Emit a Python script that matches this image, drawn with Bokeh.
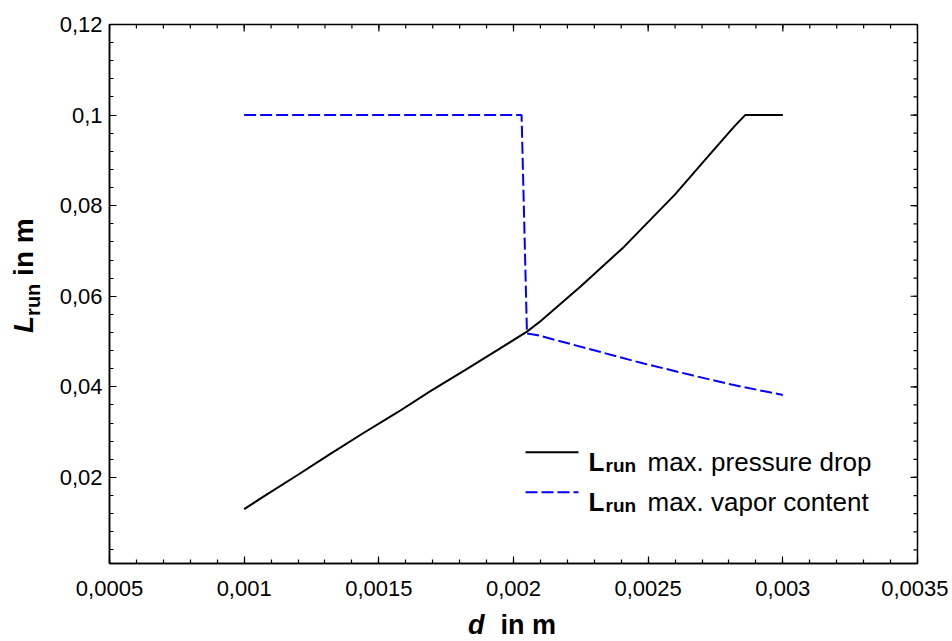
import numpy as np
from bokeh.plotting import figure
from bokeh.models import Range1d, LinearAxis, FixedTicker, Label, Div
from bokeh.layouts import column, row
from bokeh.embed import file_html
from bokeh.resources import INLINE

# ---------------- data ----------------
d_pressure = [0.00100, 0.00107, 0.00120, 0.00132, 0.00144, 0.00157, 0.00169,
              0.00182, 0.00194, 0.00205, 0.00210, 0.00225, 0.00241, 0.00260,
              0.00272, 0.00282, 0.00286, 0.00300]
L_pressure = [0.0130, 0.0157, 0.0206, 0.0252, 0.0297, 0.0344, 0.0390,
              0.0437, 0.0481, 0.0522, 0.0545, 0.0622, 0.0709, 0.0825,
              0.0907, 0.0975, 0.1000, 0.1000]

d_vapor = [0.00100, 0.00203, 0.00205, 0.00209, 0.00248, 0.00266, 0.00281, 0.00300]
L_vapor = [0.1000, 0.1000, 0.0518, 0.0514, 0.0452, 0.0426, 0.0405, 0.0382]

x_ticks = [0.0005, 0.001, 0.0015, 0.002, 0.0025, 0.003, 0.0035]
x_tick_labels = ["0,0005", "0,001", "0,0015", "0,002", "0,0025", "0,003", "0,0035"]
y_ticks = [0.02, 0.04, 0.06, 0.08, 0.1, 0.12]
y_tick_labels = ["0,02", "0,04", "0,06", "0,08", "0,1", "0,12"]

legend_labels = ["max. pressure drop", "max. vapor content"]

# ---------------- layout ----------------
X0, X1 = 0.0005, 0.0035
Y0, Y1 = 0.001, 0.12
YW = 54                      # width of the y-title strip
BL, BR, BT, BB = 55, 31, 24, 43
FW, FH = 808, 539
PW, PH = BL + FW + BR, BT + FH + BB
XH = 34                      # height of the x-title strip
FL, FT = YW + BL, BT         # frame origin in page pixels

def px_x(px):
    return X0 + (px - FL) / FW * (X1 - X0)

def px_y(py):
    return Y1 - (py - FT) / FH * (Y1 - Y0)

FONT = "Liberation Sans"

p = figure(width=PW, height=PH, output_backend="svg", toolbar_location=None,
           x_range=Range1d(X0, X1), y_range=Range1d(Y0, Y1),
           min_border_left=BL, min_border_right=BR,
           min_border_top=BT, min_border_bottom=BB,
           x_axis_location=None, y_axis_location=None, margin=0)
p.xgrid.visible = False
p.ygrid.visible = False
p.outline_line_color = "black"
p.outline_line_width = 1.5
p.background_fill_color = "white"
p.border_fill_color = "white"

x_minor = [round(X0 + i * 0.0001, 6) for i in range(31)]
y_minor = [round(0.004 * i, 4) for i in range(1, 31)]

def style_axis(ax):
    ax.axis_line_color = "black"
    ax.axis_line_width = 1.5
    ax.major_tick_in = 7
    ax.major_tick_out = 0
    ax.minor_tick_in = 4
    ax.minor_tick_out = 0
    ax.major_tick_line_width = 1.2
    ax.minor_tick_line_width = 1.2
    ax.major_tick_line_color = "black"
    ax.minor_tick_line_color = "black"
    ax.major_label_text_font = FONT
    ax.major_label_text_font_size = "22px"
    ax.major_label_text_color = "black"
    return ax

xax = style_axis(LinearAxis(ticker=FixedTicker(ticks=x_ticks, minor_ticks=x_minor)))
xax.major_label_overrides = dict(zip(x_ticks, x_tick_labels))
xax.major_label_standoff = 17
p.add_layout(xax, "below")

yax = style_axis(LinearAxis(ticker=FixedTicker(ticks=y_ticks, minor_ticks=y_minor)))
yax.major_label_overrides = dict(zip(y_ticks, y_tick_labels))
yax.major_label_standoff = 7
p.add_layout(yax, "left")

# mirrored inward ticks on top and right edges
ty_maj, ty_min = 7 / FH * (Y1 - Y0), 4 / FH * (Y1 - Y0)
tx_maj, tx_min = 7 / FW * (X1 - X0), 4 / FW * (X1 - X0)
p.segment(x0=x_minor, y0=[Y1] * len(x_minor), x1=x_minor, y1=[Y1 - ty_min] * len(x_minor),
          line_color="black", line_width=1.2)
p.segment(x0=x_ticks, y0=[Y1] * len(x_ticks), x1=x_ticks, y1=[Y1 - ty_maj] * len(x_ticks),
          line_color="black", line_width=1.2)
p.segment(x0=[X1] * len(y_minor), y0=y_minor, x1=[X1 - tx_min] * len(y_minor), y1=y_minor,
          line_color="black", line_width=1.2)
p.segment(x0=[X1] * len(y_ticks), y0=y_ticks, x1=[X1 - tx_maj] * len(y_ticks), y1=y_ticks,
          line_color="black", line_width=1.2)

# ---------------- series ----------------
p.line(d_pressure, L_pressure, line_color="black", line_width=2)
p.line(d_vapor, L_vapor, line_color="#0000FF", line_width=2, line_dash="12 4")

# ---------------- legend (manual, for mixed styles) ----------------
leg_x0, leg_x1 = 525, 578
leg_rows = [451.7, 491.7]
leg_styles = [dict(line_color="black", line_dash="solid"),
              dict(line_color="#0000FF", line_dash="12 4")]
for row_y, style, lab in zip(leg_rows, leg_styles, legend_labels):
    p.line([px_x(leg_x0), px_x(leg_x1)], [px_y(row_y), px_y(row_y)],
           line_width=2, **style)
    base = row_y + 10
    p.add_layout(Label(x=px_x(588), y=px_y(base), text="L",
                       text_font=FONT, text_font_size="26px", text_font_style="bold",
                       text_baseline="alphabetic", text_align="left", text_color="black"))
    p.add_layout(Label(x=px_x(605), y=px_y(base + 3.5), text="run",
                       text_font=FONT, text_font_size="19px", text_font_style="bold",
                       text_baseline="alphabetic", text_align="left", text_color="black"))
    p.add_layout(Label(x=px_x(647), y=px_y(base), text=lab,
                       text_font=FONT, text_font_size="26px", text_font_style="normal",
                       text_baseline="alphabetic", text_align="left", text_color="black"))

# ---------------- axis titles (HTML, for italic / subscript) ----------------
title_font = "font-family:'Liberation Sans',Arial,sans-serif; font-weight:bold; color:black;"
ytitle_html = (
    f'<div style="position:relative; width:{YW}px; height:{PH}px; overflow:hidden;">'
    f'<div style="position:absolute; left:10px; top:333px; transform-origin:0 0; '
    f'transform:rotate(-90deg); white-space:nowrap; {title_font} font-size:28px; line-height:28px;">'
    '<i>L</i><span style="font-size:20px; position:relative; top:7px;">run</span> in m'
    '</div></div>'
)
xtitle_html = (
    f'<div style="position:relative; width:{YW + PW}px; height:{XH}px; overflow:hidden;">'
    f'<div style="position:absolute; left:468px; top:6px; white-space:nowrap; {title_font} '
    'font-size:27px; line-height:26px;">'
    '<i>d</i><span style="margin-left:16px;">in m</span>'
    '</div></div>'
)
ydiv = Div(text=ytitle_html, width=YW, height=PH, margin=0)
xdiv = Div(text=xtitle_html, width=YW + PW, height=XH, margin=0)

layout = column(row(ydiv, p, spacing=0, margin=0), xdiv, spacing=0, margin=0)

open("out.html", "w").write(file_html(layout, INLINE))
